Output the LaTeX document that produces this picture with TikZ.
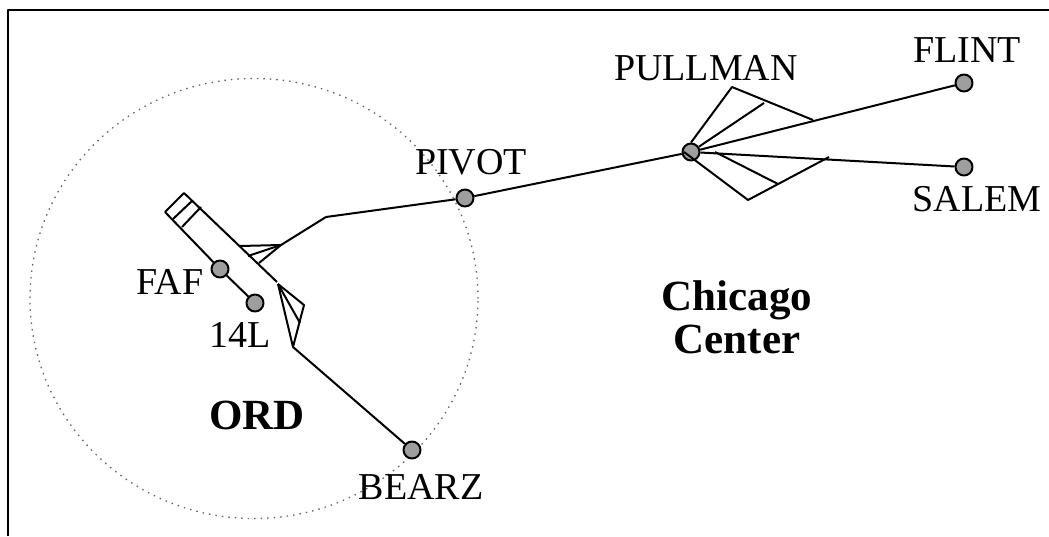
\documentclass[tikz,border=0pt]{standalone}
\usepackage{fontspec}
\setmainfont{Liberation Serif}
\usetikzlibrary{positioning}

\begin{document}
\begin{tikzpicture}[x=1pt,y=-1pt,line width=2pt,line join=round]
    \tikzstyle{fix}=[circle,draw,fill=black!38,inner sep=0pt,minimum size=17pt]
    \tikzstyle{fixname}=[font=\fontsize{38}{38}\selectfont,inner sep=0pt]
    \tikzstyle{areaname}=[font=\fontsize{43}{43}\selectfont\bfseries,inner sep=0pt,align=center]
    \useasboundingbox (0,0) rectangle (1049,536);
    \coordinate (frameA) at (8,536);
    \coordinate (frameB) at (8,10);
    \coordinate (frameC) at (1049,10);
    \draw (frameA) -- (frameB) -- (frameC);
    \draw[black!60,line width=1.3pt,dash pattern=on 1.5pt off 5pt] (254,298.5) ellipse (224pt and 220pt);
    % runway and its fans
    \coordinate (rwyA) at (184,193);
    \coordinate (rwyB) at (165,212);
    \coordinate (rwyC) at (192,201);
    \coordinate (rwyD) at (173,219);
    \coordinate (rwyE) at (201,207);
    \coordinate (rwyF) at (182,227);
    \coordinate (rwyEnd) at (277,282);
    \coordinate (turnA) at (326,217);
    \coordinate (fanA) at (281,245);
    \coordinate (fanB) at (240,246);
    \coordinate (fanC) at (248,256);
    \coordinate (fanD) at (259,263);
    \coordinate (fanE) at (304,305);
    \coordinate (fanF) at (293,347);
    \coordinate (fanG) at (300,323);
    \coordinate (fanH) at (278,284);
    \coordinate (pullA) at (732,87);
    \coordinate (pullB) at (813,120);
    \coordinate (pullC) at (764,103);
    \coordinate (pullD) at (748,200);
    \coordinate (pullE) at (829,157);
    \coordinate (pullF) at (778,184);
    \coordinate (pullG) at (715,152);
    \coordinate (pullH) at (684,152);
    % lines first, the fixes go over them
    \draw (rwyB) -- (rwyA) -- (rwyEnd);
    \draw (rwyC) -- (rwyD);
    \draw (rwyE) -- (rwyF);
    \draw (fanB) -- (fanA) -- (fanD);
    \draw (fanC) -- (fanA) -- (turnA);
    \draw (fanH) -- (fanE) -- (fanF) -- (fanH);
    \draw (fanH) -- (fanG);
    \node[fix] (faf) at (220,269) {};
    \node[fix] (rwy) at (255,303) {};
    \node[fix] (pivot) at (465,198) {};
    \node[fix] (pullman) at (691,152) {};
    \node[fix] (flint) at (964,83) {};
    \node[fix] (salem) at (964,167) {};
    \node[fix] (bearz) at (412,450) {};
    \draw (rwyB) -- (faf);
    \draw (faf) -- (rwy);
    \draw (turnA) -- (pivot);
    \draw (pivot) -- (pullman);
    \draw (fanF) -- (bearz);
    \draw (pullman) -- (flint);
    \draw (pullman) -- (salem);
    \draw (pullman.north) -- (pullA) -- (pullB);
    \draw (pullman) -- (pullC);
    \draw (pullH) -- (pullD) -- (pullE);
    \draw (pullG) -- (pullF);
    \node[fixname] (fafName) at (170,282) {FAF};
    \node[fixname] (rwyName) at (240,335) {14L};
    \node[fixname] (pivotName) at (471,162) {PIVOT};
    \node[fixname] (pullmanName) at (706,68) {PULLMAN};
    \node[fixname] (flintName) at (967,50) {FLINT};
    \node[fixname] (salemName) at (977,199) {SALEM};
    \node[fixname] (bearzName) at (421,487) {BEARZ};
    \node[areaname] (ordName) at (257,415) {ORD};
    \node[areaname] (chicago) at (737,317) {Chicago\\Center};
  \end{tikzpicture}
\end{document}
